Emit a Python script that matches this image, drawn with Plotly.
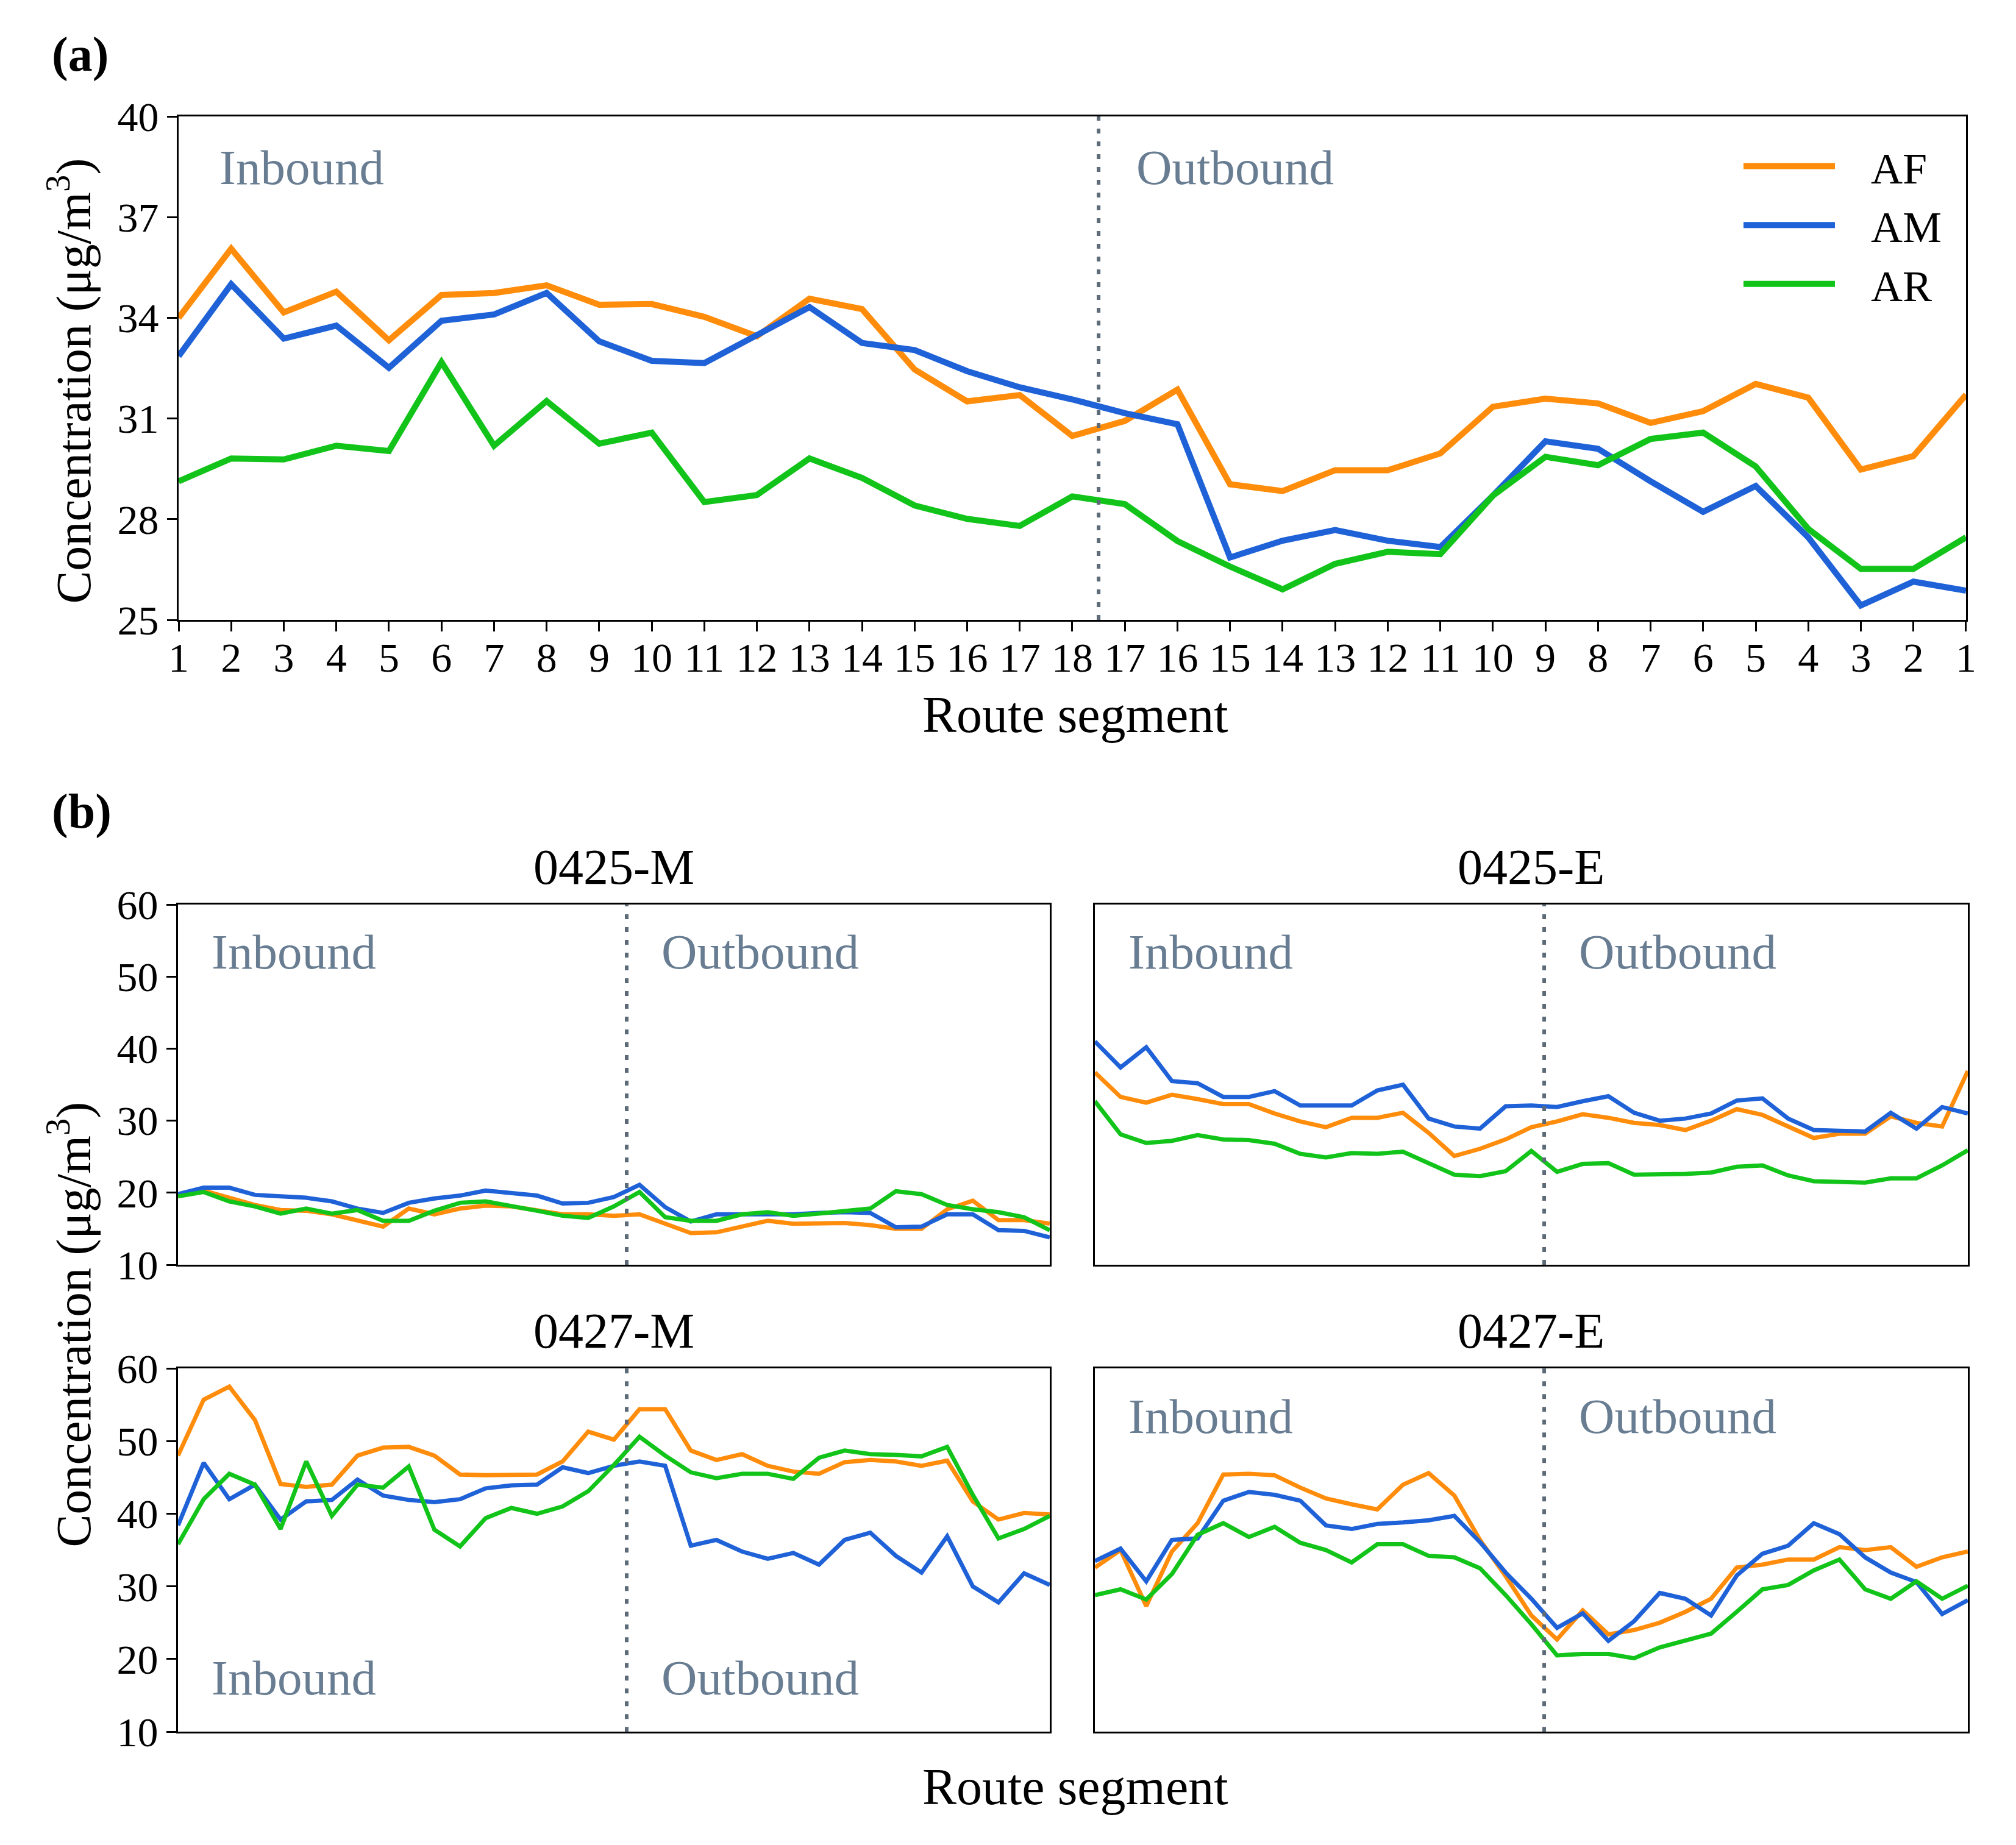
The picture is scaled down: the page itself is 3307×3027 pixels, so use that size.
import plotly.graph_objects as go

# ---------------- data ----------------
seg_labels = ["1", "2", "3", "4", "5", "6", "7", "8", "9", "10", "11", "12", "13", "14", "15", "16", "17", "18",
              "17", "16", "15", "14", "13", "12", "11", "10", "9", "8", "7", "6", "5", "4", "3", "2", "1"]
seg_pos = list(range(1, 36))

a_AF = [34.0, 36.06, 34.16, 34.78, 33.33, 34.68, 34.74, 34.97, 34.39, 34.41, 34.03, 33.45, 34.57, 34.26, 32.46, 31.51, 31.70,
        30.48, 30.93, 31.86, 29.04, 28.84, 29.46, 29.46, 29.96, 31.35, 31.59, 31.45, 30.87, 31.22, 32.03, 31.62, 29.48, 29.88, 31.71]
a_AM = [32.86, 35.0, 33.38, 33.77, 32.51, 33.91, 34.10, 34.74, 33.30, 32.72, 32.65, 33.51, 34.32, 33.25, 33.04, 32.41, 31.93,
        31.57, 31.16, 30.83, 26.86, 27.36, 27.68, 27.36, 27.17, 28.70, 30.32, 30.10, 29.13, 28.22, 28.99, 27.46, 25.43, 26.14, 25.87]
a_AR = [29.13, 29.81, 29.78, 30.19, 30.03, 32.68, 30.19, 31.52, 30.25, 30.58, 28.51, 28.72, 29.81, 29.23, 28.41, 28.01, 27.80,
        28.68, 28.45, 27.35, 26.59, 25.91, 26.67, 27.03, 26.96, 28.70, 29.86, 29.61, 30.39, 30.58, 29.57, 27.71, 26.52, 26.52, 27.46]

m0425_AF = [19.6, 20.3, 19.3, 18.3, 17.6, 17.5, 17.0, 16.2, 15.3, 17.8, 17.0, 17.8, 18.2, 18.1, 17.5, 17.0, 17.0, 16.8,
            17.0, 15.7, 14.4, 14.5, 15.3, 16.1, 15.7, 15.8, 15.8, 15.5, 15.0, 15.0, 17.7, 18.9, 16.2, 16.2, 15.7]
m0425_AM = [19.8, 20.7, 20.7, 19.7, 19.5, 19.3, 18.8, 17.8, 17.2, 18.6, 19.2, 19.6, 20.3, 20.0, 19.6, 18.5, 18.6, 19.4,
            21.1, 18.0, 16.0, 17.0, 17.0, 17.0, 17.0, 17.2, 17.3, 17.2, 15.2, 15.3, 17.0, 17.0, 14.8, 14.7, 13.8]
m0425_AR = [19.5, 20.1, 18.8, 18.1, 17.1, 17.8, 17.1, 17.6, 16.1, 16.1, 17.5, 18.6, 18.8, 18.2, 17.5, 16.8, 16.5, 18.1,
            20.1, 16.6, 16.1, 16.1, 17.0, 17.3, 16.8, 17.1, 17.5, 17.8, 20.2, 19.8, 18.3, 17.7, 17.3, 16.6, 14.8]

e0425_AF = [36.7, 33.3, 32.5, 33.6, 33.0, 32.3, 32.3, 31.0, 29.9, 29.1, 30.4, 30.4, 31.1, 28.3, 25.1, 26.1, 27.4, 29.1,
            29.9, 30.9, 30.4, 29.7, 29.4, 28.7, 30.0, 31.6, 30.8, 29.2, 27.6, 28.2, 28.2, 30.6, 29.7, 29.2, 36.9]
e0425_AM = [41.0, 37.4, 40.2, 35.5, 35.2, 33.3, 33.3, 34.1, 32.1, 32.1, 32.1, 34.2, 35.0, 30.3, 29.2, 28.9, 32.0, 32.1,
            31.9, 32.7, 33.4, 31.1, 30.0, 30.3, 31.0, 32.8, 33.1, 30.3, 28.7, 28.6, 28.5, 31.1, 28.9, 31.9, 31.0]
e0425_AR = [32.7, 28.1, 26.9, 27.2, 28.0, 27.4, 27.3, 26.8, 25.4, 24.9, 25.5, 25.4, 25.7, 24.1, 22.5, 22.3, 23.0, 25.8,
            22.9, 24.0, 24.1, 22.5, 22.5, 22.6, 22.8, 23.6, 23.8, 22.4, 21.6, 21.5, 21.4, 22.0, 22.0, 23.8, 25.9]

m0427_AF = [48.0, 55.7, 57.5, 52.9, 44.1, 43.7, 44.0, 48.0, 49.1, 49.2, 48.0, 45.4, 45.3, 45.4, 45.4, 47.2, 51.3, 50.2,
            54.4, 54.4, 48.7, 47.4, 48.2, 46.6, 45.8, 45.5, 47.1, 47.4, 47.2, 46.6, 47.3, 41.7, 39.2, 40.1, 39.9]
m0427_AM = [38.4, 47.0, 42.0, 44.0, 39.2, 41.7, 41.9, 44.7, 42.5, 41.9, 41.6, 42.0, 43.5, 43.9, 44.0, 46.4, 45.6, 46.6,
            47.2, 46.6, 35.6, 36.4, 34.8, 33.8, 34.6, 33.0, 36.4, 37.4, 34.2, 31.9, 36.9, 30.0, 27.8, 31.8, 30.2]
m0427_AR = [35.8, 42.0, 45.5, 44.0, 37.9, 47.2, 39.7, 44.0, 43.6, 46.5, 37.8, 35.5, 39.4, 40.8, 40.0, 41.0, 43.1, 46.7,
            50.6, 48.0, 45.7, 44.9, 45.5, 45.5, 44.8, 47.7, 48.7, 48.2, 48.1, 47.9, 49.2, 42.6, 36.6, 37.9, 39.7]

e0427_AF = [32.6, 35.0, 27.3, 34.8, 38.7, 45.4, 45.5, 45.3, 43.6, 42.1, 41.3, 40.6, 44.0, 45.6, 42.5, 36.4, 31.4, 26.0,
            22.7, 26.7, 23.4, 24.0, 25.0, 26.5, 28.3, 32.6, 33.0, 33.7, 33.7, 35.4, 35.0, 35.4, 32.7, 34.0, 34.8]
e0427_AM = [33.5, 35.2, 30.7, 36.4, 36.6, 41.8, 43.0, 42.6, 41.8, 38.4, 37.9, 38.6, 38.8, 39.1, 39.7, 36.1, 31.9, 28.3,
            24.3, 26.3, 22.5, 25.2, 29.1, 28.3, 26.0, 31.5, 34.5, 35.6, 38.7, 37.2, 34.0, 31.9, 30.6, 26.2, 28.1]
e0427_AR = [28.8, 29.6, 28.2, 31.7, 37.1, 38.7, 36.8, 38.2, 36.0, 35.0, 33.3, 35.8, 35.8, 34.2, 34.0, 32.5, 28.8, 24.8,
            20.5, 20.7, 20.7, 20.1, 21.6, 22.6, 23.5, 26.5, 29.6, 30.2, 32.2, 33.7, 29.6, 28.3, 30.7, 28.3, 30.1]

series_names = ["AF", "AM", "AR"]
panel_titles = ["0425-M", "0425-E", "0427-M", "0427-E"]
a_yticks = [25, 28, 31, 34, 37, 40]
b_yticks = [10, 20, 30, 40, 50, 60]
turn_point = 18.5

# ---------------- style ----------------
COLORS = {"AF": "#FF8C0A", "AM": "#1F62D8", "AR": "#12C41A"}
FONT = "Liberation Serif"
TXT_GRAY = "#687D92"
VLINE_GRAY = "#5D6B79"
NB = "\u00a0\u00a0\u00a0"  # gap between legend sample and label

W, H = 3307, 3027
OX, OY = 8 / W, 8 / H   # compensate page offset


def xd(a, b):
    return [a - OX, b - OX]


def yd(a, b):
    return [a + OY, b + OY]


fig = go.Figure()

# Panel (a)
for name, vals in zip(series_names, [a_AF, a_AM, a_AR]):
    fig.add_trace(go.Scatter(x=seg_pos, y=vals, mode="lines", name=NB + name,
                             line=dict(color=COLORS[name], width=10),
                             xaxis="x", yaxis="y", showlegend=True))

# Panel (b)
b_data = [
    (m0425_AF, m0425_AM, m0425_AR),
    (e0425_AF, e0425_AM, e0425_AR),
    (m0427_AF, m0427_AM, m0427_AR),
    (e0427_AF, e0427_AM, e0427_AR),
]
for k, triple in enumerate(b_data):
    ax = k + 2
    for name, vals in zip(series_names, triple):
        fig.add_trace(go.Scatter(x=seg_pos, y=vals, mode="lines", name=name,
                                 line=dict(color=COLORS[name], width=7),
                                 xaxis=f"x{ax}", yaxis=f"y{ax}", showlegend=False))

axis_common = dict(showline=True, mirror=True, linecolor="black", linewidth=3,
                   showgrid=False, zeroline=False, automargin=False,
                   tickfont=dict(family=FONT, size=68, color="black"))

# domains
A_X = xd(0.0886, 0.9752)
A_Y = yd(0.664, 0.9369)
B_XL = xd(0.0883, 0.5207)
B_XR = xd(0.5431, 0.9761)
B_YT = yd(0.3145, 0.5097)
B_YB = yd(0.0614, 0.2583)

layout = dict(
    width=W, height=H,
    margin=dict(l=0, r=0, t=0, b=0, autoexpand=False),
    paper_bgcolor="white", plot_bgcolor="white",
    font=dict(family=FONT, color="black"),
    xaxis=dict(domain=A_X, anchor="y", range=[1, 35], tickmode="array",
               tickvals=seg_pos, ticktext=seg_labels, ticks="outside",
               ticklen=16, tickwidth=3, tickcolor="black", ticklabelstandoff=-16,
               **axis_common),
    yaxis=dict(domain=A_Y, anchor="x", range=[25, 40], tickmode="array",
               tickvals=a_yticks, ticks="outside", ticklen=16, tickwidth=3,
               tickcolor="black", **axis_common),
    legend=dict(x=0.9625, xanchor="right", y=0.9302, yanchor="top",
                font=dict(family=FONT, size=72, color="black"),
                itemwidth=150,
                bgcolor="rgba(0,0,0,0)", tracegroupgap=0),
)

b_domains = [(B_XL, B_YT), (B_XR, B_YT), (B_XL, B_YB), (B_XR, B_YB)]
for k, (dx, dy) in enumerate(b_domains):
    ax = k + 2
    left = (k % 2 == 0)
    layout[f"xaxis{ax}"] = dict(domain=dx, anchor=f"y{ax}", range=[1, 35],
                                showticklabels=False, ticks="", **axis_common)
    layout[f"yaxis{ax}"] = dict(domain=dy, anchor=f"x{ax}", range=[10, 60],
                                tickmode="array", tickvals=b_yticks,
                                showticklabels=left, ticks="outside" if left else "",
                                ticklen=16, tickwidth=3, tickcolor="black",
                                **axis_common)

fig.update_layout(**layout)

# dotted turnaround lines
for ax in ["", "2", "3", "4", "5"]:
    fig.add_shape(type="line", xref=f"x{ax}", yref=f"y{ax} domain",
                  x0=turn_point, x1=turn_point, y0=0, y1=1,
                  line=dict(color=VLINE_GRAY, width=6, dash="8px,13px"))

ann = []
# panel labels
ann.append(dict(text="<b>(a)</b>", x=0.025 - OX, y=0.9704 + OY, xref="paper", yref="paper",
                xanchor="left", yanchor="middle", showarrow=False,
                font=dict(family=FONT, size=80, color="black")))
ann.append(dict(text="<b>(b)</b>", x=0.025 - OX, y=0.5601 + OY, xref="paper", yref="paper",
                xanchor="left", yanchor="middle", showarrow=False,
                font=dict(family=FONT, size=80, color="black")))
# axis titles
ytitle = "Concentration (μg/m<sup>3</sup>)"
ann.append(dict(text=ytitle, x=0.0346 - OX, y=0.7935 + OY, xref="paper", yref="paper",
                textangle=-90, showarrow=False, xanchor="center", yanchor="middle",
                font=dict(family=FONT, size=81, color="black")))
ann.append(dict(text=ytitle, x=0.0346 - OX, y=0.2821 + OY, xref="paper", yref="paper",
                textangle=-90, showarrow=False, xanchor="center", yanchor="middle",
                font=dict(family=FONT, size=81, color="black")))
ann.append(dict(text="Route segment", x=0.5334 - OX, y=0.6128 + OY, xref="paper", yref="paper",
                showarrow=False, xanchor="center", yanchor="middle",
                font=dict(family=FONT, size=84, color="black")))
ann.append(dict(text="Route segment", x=0.5334 - OX, y=0.0316 + OY, xref="paper", yref="paper",
                showarrow=False, xanchor="center", yanchor="middle",
                font=dict(family=FONT, size=84, color="black")))
# subplot titles
for k, t in enumerate(panel_titles):
    ax = k + 2
    ann.append(dict(text=t, x=0.5, y=1.0, xref=f"x{ax} domain", yref=f"y{ax} domain",
                    xanchor="center", yanchor="bottom", yshift=14, showarrow=False,
                    font=dict(family=FONT, size=82, color="black")))
# Inbound / Outbound labels
ann.append(dict(text="Inbound", x=0.022, y=0.898, xref="x domain", yref="y domain",
                xanchor="left", yanchor="middle", showarrow=False,
                font=dict(family=FONT, size=81, color=TXT_GRAY)))
ann.append(dict(text="Outbound", x=0.535, y=0.898, xref="x domain", yref="y domain",
                xanchor="left", yanchor="middle", showarrow=False,
                font=dict(family=FONT, size=81, color=TXT_GRAY)))
b_label_y = [0.868, 0.868, 0.148, 0.868]
for k in range(4):
    ax = k + 2
    ann.append(dict(text="Inbound", x=0.037, y=b_label_y[k], xref=f"x{ax} domain",
                    yref=f"y{ax} domain", xanchor="left", yanchor="middle", showarrow=False,
                    font=dict(family=FONT, size=81, color=TXT_GRAY)))
    ann.append(dict(text="Outbound", x=0.553, y=b_label_y[k], xref=f"x{ax} domain",
                    yref=f"y{ax} domain", xanchor="left", yanchor="middle", showarrow=False,
                    font=dict(family=FONT, size=81, color=TXT_GRAY)))

fig.update_layout(annotations=ann)
fig.write_html("out.html")
